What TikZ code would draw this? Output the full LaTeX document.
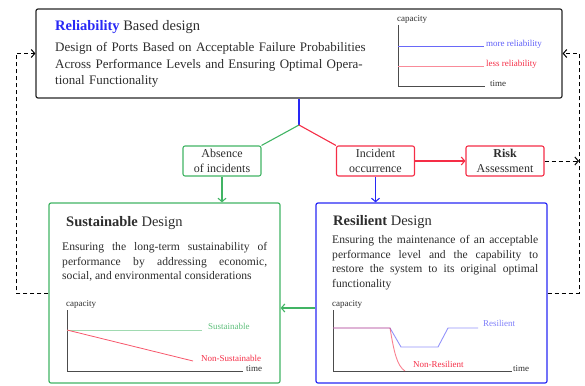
\documentclass[tikz,border=0pt]{standalone}
\usepackage{fontspec}
\setmainfont{Liberation Serif}
\usetikzlibrary{arrows.meta}

\definecolor{relblue}{RGB}{40,40,245}
\definecolor{incred}{RGB}{245,45,70}
\definecolor{susgreen}{RGB}{65,180,100}
\definecolor{txtgray}{RGB}{45,45,45}

\begin{document}
\begin{tikzpicture}[x=1pt,y=-1pt,
    >={Straight Barb[length=3.5pt,width=8pt]},
    mainbox/.style={draw=#1, rounded corners=2pt, line width=1.2pt, inner sep=0pt},
    smallbox/.style={draw=#1, rounded corners=2pt, line width=1.1pt, minimum width=78pt,
      minimum height=30pt, inner sep=0pt, align=center, text=txtgray,
      font=\fontsize{12}{14.5}\selectfont},
    title/.style={anchor=west, inner sep=0pt, text=txtgray, font=\fontsize{14.5}{17}\selectfont},
    body/.style={anchor=north west, inner sep=0pt, text=txtgray, text width=#1,
      font=\fontsize{11.6}{14.5}\selectfont},
    tick/.style={anchor=west, inner sep=0pt, font=\fontsize{9}{10}\selectfont},
    axis/.style={draw=black!70, line width=0.6pt},
    link/.style={line width=1.1pt},
    dashline/.style={dashed, line width=1pt, dash pattern=on 4pt off 3pt},
  ]

    % Fix the page size
    \useasboundingbox (0,0) rectangle (585,385);

    % Main boxes
    \node[mainbox=black!85, minimum width=526pt, minimum height=89pt] (topbox) at (299,53.5) {};
    \node[mainbox=susgreen, minimum width=231pt, minimum height=180pt] (sust) at (164.5,293) {};
    \node[mainbox=relblue, minimum width=231pt, minimum height=180pt] (resil) at (431.5,293) {};

    % Small boxes in the middle row
    \node[smallbox=susgreen] (absence) at (222,161) {Absence\\of incidents};
    \node[smallbox=incred] (incident) at (375.5,161) {Incident\\occurrence};
    \node[smallbox=incred] (risk) at (505,161) {\textbf{Risk}\\Assessment};

    % Texts of the top box
    \node[title] (reltitle) at (55,27) {\textcolor{relblue}{\textbf{Reliability}} Based design};
    \node[body=330pt, font=\fontsize{13}{16.5}\selectfont] (reltext) at (55,42.5)
      {Design of Ports Based on Acceptable Failure Probabilities\\
       Across Performance Levels and Ensuring Optimal Opera-\\
       tional Functionality};

    % Texts of the two lower boxes
    \node[title] (sustitle) at (66,223) {\textbf{Sustainable} Design};
    \node[body=205pt, align=justify] (sustext) at (62,242.5)
      {\hyphenpenalty=10000
       Ensuring the long-term sustainability of\linebreak
       performance by addressing economic,\linebreak
       social, and environmental considerations};
    \node[title] (resiltitle) at (333,222) {\textbf{Resilient} Design};
    \node[body=206pt, align=justify] (resiltext) at (332,235.5)
      {\hyphenpenalty=10000
       Ensuring the maintenance of an acceptable\linebreak
       performance level and the capability to\linebreak
       restore the system to its original optimal\linebreak
       functionality};

    % Small graph: reliability levels
    \node[tick, text=txtgray] (capa) at (397,19) {capacity};
    \draw[axis] (398,25) -- (398,86) -- (485,86);
    \draw[relblue!70, line width=0.8pt] (398,46) -- (484,46);
    \draw[incred!55, line width=0.8pt] (398,66) -- (484,66);
    \node[tick, text=relblue!75] (morerel) at (486,44) {more reliability};
    \node[tick, text=incred] (lessrel) at (486,64) {less reliability};
    \node[tick, text=txtgray] (timea) at (490,84) {time};

    % Small graph: sustainable against non-sustainable
    \node[tick, text=txtgray] (capb) at (66,304) {capacity};
    \draw[axis] (67,310) -- (67,371) -- (243,371);
    \draw[susgreen!50, line width=0.8pt] (67,330) -- (202,330);
    \draw[incred!80, line width=0.8pt] (67,330) -- (193,361);
    \node[tick, text=susgreen!85] (suslab) at (208,326) {Sustainable};
    \node[tick, text=incred] (nonsuslab) at (201,358) {Non-Sustainable};
    \node[tick, text=txtgray] (timeb) at (246,369) {time};

    % Small graph: resilient against non-resilient
    \node[tick, text=txtgray] (capc) at (332,304) {capacity};
    \draw[axis] (333,310) -- (333,371) -- (512,371);
    \draw[relblue!50, line width=0.9pt] (333,328) -- (390,328) -- (401,347) -- (438,347)
      -- (448,328) -- (478,328);
    \draw[incred, opacity=0.6, line width=0.9pt] (333,328) -- (390,328)
      .. controls (394,352) and (397,366) .. (405,371);
    \node[tick, text=relblue!60] (reslab) at (483,323) {Resilient};
    \node[tick, text=incred] (nonreslab) at (413,364) {Non-Resilient};
    \node[tick, text=txtgray] (timec) at (513,369) {time};

    % Split below the top box
    \coordinate (split) at (299,125);
    \draw[link, relblue] (topbox.south) -- (split);
    \draw[link, susgreen] (split) -- (absence.north east);
    \draw[link, incred] (split) -- (incident.north west);

    % Arrows between the boxes
    \draw[link, incred, ->] (incident) -- (risk);
    \draw[link, susgreen, ->] (absence.south) -- (absence.south |- sust.north);
    \draw[link, relblue, ->] (incident.south) -- (incident.south |- resil.north);
    \draw[link, susgreen, ->] ([yshift=-15pt]resil.west) -- ([yshift=-15pt]sust.east);

    % Feedback loops back to the top box
    \coordinate (leftturn) at (16,293);
    \coordinate (rightturn) at (579,293);
    \draw[dashline, ->] (sust.west) -- (leftturn) |- (topbox.west);
    \draw[dashline, ->] (resil.east) -- (rightturn) |- (topbox.east);
    \draw[dashline, ->] (risk.east) -- (risk.east -| rightturn);

\end{tikzpicture}
\end{document}
